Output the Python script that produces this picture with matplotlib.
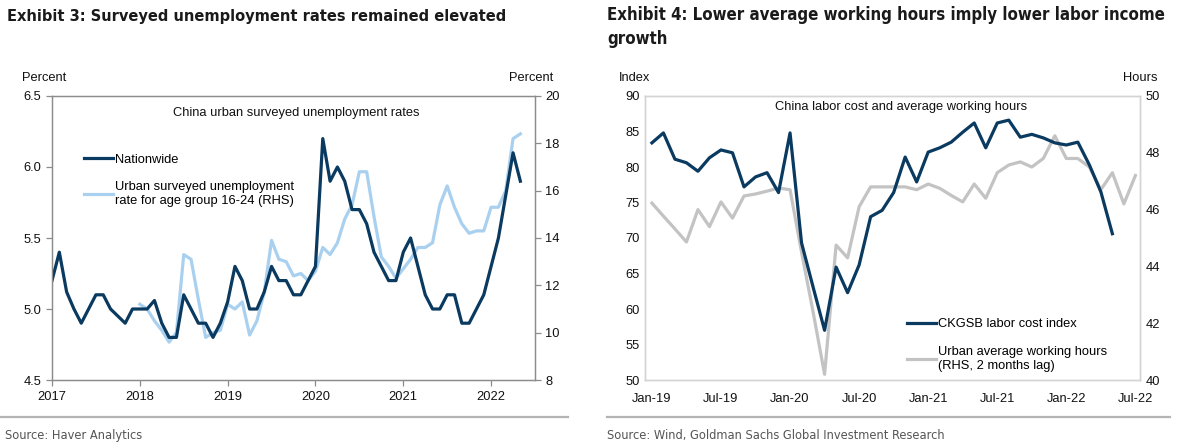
import numpy as np
import matplotlib
matplotlib.use("Agg")
import matplotlib.pyplot as plt
from matplotlib.lines import Line2D

# data
######################################################
# Exhibit 3: monthly from Jan-2017 (nationwide) and Jan-2018 (youth)
nationwide = [5.2, 5.4, 5.12, 5.0, 4.9, 5.0, 5.1, 5.1, 5.0, 4.95, 4.9, 5.0,
              5.0, 5.0, 5.06, 4.9, 4.8, 4.8, 5.1, 5.0, 4.9, 4.9, 4.8, 4.9,
              5.05, 5.3, 5.2, 5.0, 5.0, 5.12, 5.3, 5.2, 5.2, 5.1, 5.1, 5.2,
              5.3, 6.2, 5.9, 6.0, 5.9, 5.7, 5.7, 5.6, 5.4, 5.3, 5.2, 5.2,
              5.4, 5.5, 5.3, 5.1, 5.0, 5.0, 5.1, 5.1, 4.9, 4.9, 5.0, 5.1,
              5.3, 5.5, 5.8, 6.1, 5.9]
youth = [11.2, 11.0, 10.5, 10.1, 9.6, 10.0, 13.3, 13.1, 11.4, 9.8, 10.0, 10.1,
         11.2, 11.0, 11.3, 9.9, 10.5, 11.7, 13.9, 13.1, 13.0, 12.4, 12.5, 12.2,
         12.6, 13.6, 13.3, 13.8, 14.8, 15.4, 16.8, 16.8, 14.9, 13.2, 12.8, 12.3,
         12.7, 13.1, 13.6, 13.6, 13.8, 15.4, 16.2, 15.3, 14.6, 14.2, 14.3, 14.3,
         15.3, 15.3, 16.0, 18.2, 18.4]
years = ['2017', '2018', '2019', '2020', '2021', '2022']

# Exhibit 4: monthly from Jan-2019
labor_cost = [83.4, 84.8, 81.1, 80.6, 79.4, 81.3, 82.4, 82.0, 77.2, 78.6, 79.2, 76.4,
              84.8, 69.3, 63.1, 57.0, 65.9, 62.3, 66.2, 73.0, 73.9, 76.4, 81.4, 77.9,
              82.1, 82.7, 83.5, 84.9, 86.2, 82.7, 86.2, 86.6, 84.2, 84.6, 84.1, 83.4,
              83.1, 83.5, 80.3, 76.5, 70.6]
work_hours = [46.23, 45.77, 45.32, 44.86, 46.0, 45.4, 46.27, 45.7, 46.48, 46.55, 46.65, 46.76,
              46.7, 44.5, 42.4, 40.2, 44.75, 44.3, 46.1, 46.8, 46.8, 46.8, 46.8, 46.7,
              46.9, 46.75, 46.5, 46.27, 46.9, 46.4, 47.3, 47.57, 47.68, 47.5, 47.8, 48.6,
              47.8, 47.8, 47.5, 46.7, 47.3, 46.2, 47.2]
month_labels = ['Jan-19', 'Jul-19', 'Jan-20', 'Jul-20', 'Jan-21', 'Jul-21', 'Jan-22', 'Jul-22']

plt.rcParams['font.family'] = ['Liberation Sans', 'DejaVu Sans']
fs = 9.3

navy = '#0a3a60'
light_blue = '#a9d0ef'
grey_line = '#c3c3c3'
txt = '#111111'

fig = plt.figure(figsize=(11.77, 4.48), dpi=100)
W, H = 1177.0, 448.0

def box(x0, y0, x1, y1):
    return [x0 / W, 1 - y1 / H, (x1 - x0) / W, (y1 - y0) / H]

# Exhibit 3
######################################################
ax1 = fig.add_axes(box(52, 96, 535, 380))
ax1r = ax1.twinx()
m1 = np.arange(len(nationwide))
m2 = 12 + np.arange(len(youth))
ax1r.plot(m2, youth, color=light_blue, lw=2.3, label='Urban surveyed unemployment\nrate for age group 16-24 (RHS)')
ax1.plot(m1, nationwide, color=navy, lw=2.3, label='Nationwide')
ax1.set_zorder(ax1r.get_zorder() + 1)
ax1.patch.set_visible(False)
ax1.set_xlim(0, 66)
ax1.set_ylim(4.5, 6.5)
ax1r.set_ylim(8, 20)
ax1.set_yticks(np.arange(4.5, 6.51, 0.5))
ax1.set_yticklabels(['%.1f' % v for v in np.arange(4.5, 6.51, 0.5)])
ax1r.set_yticks(np.arange(8, 21, 2))
ax1.set_xticks(np.arange(0, 61, 12))
ax1.set_xticklabels(years)
for a in (ax1, ax1r):
    for s in a.spines.values():
        s.set_color('#8c8c8c')
        s.set_linewidth(0.9)
    a.tick_params(colors='#8c8c8c', labelcolor=txt, labelsize=fs, length=4, width=0.9)
ax1.tick_params(axis='x', pad=4)
ax1.text(0.505, 0.94, 'China urban surveyed unemployment rates', transform=ax1.transAxes,
         ha='center', va='center', fontsize=fs, color=txt)
h1, l1 = ax1.get_legend_handles_labels()
h2, l2 = ax1r.get_legend_handles_labels()
ax1.legend(h1 + h2, l1 + l2, loc='upper left', bbox_to_anchor=(0.055, 0.815), frameon=False,
           handlelength=2.3, handletextpad=0.15, labelspacing=1.2, fontsize=fs,
           borderaxespad=0)
fig.text(22 / W, 1 - 78 / H, 'Percent', ha='left', va='center', fontsize=fs, color=txt)
fig.text(553 / W, 1 - 78 / H, 'Percent', ha='right', va='center', fontsize=fs, color=txt)

# Exhibit 4
######################################################
ax2 = fig.add_axes(box(645, 96, 1140, 380))
ax2r = ax2.twinx()
n1 = np.arange(len(labor_cost))
n2 = np.arange(len(work_hours))
ax2r.plot(n2, work_hours, color=grey_line, lw=2.3, label='Urban average working hours\n(RHS, 2 months lag)')
ax2.plot(n1, labor_cost, color=navy, lw=2.3, label='CKGSB labor cost index')
ax2.set_zorder(ax2r.get_zorder() + 1)
ax2.patch.set_visible(False)
ax2.set_xlim(-0.6, 42.4)
ax2.set_ylim(50, 90)
ax2r.set_ylim(40, 50)
ax2.set_yticks(np.arange(50, 91, 5))
ax2r.set_yticks(np.arange(40, 51, 2))
ax2.set_xticks(np.arange(0, 43, 6))
ax2.set_xticklabels(month_labels)
for a in (ax2, ax2r):
    for s in a.spines.values():
        s.set_color('#d4d4d4')
        s.set_linewidth(1.0)
    a.tick_params(labelcolor=txt, labelsize=fs, length=0, pad=4)
ax2.tick_params(axis='x', pad=9)
ax2.text(0.517, 0.96, 'China labor cost and average working hours', transform=ax2.transAxes,
         ha='center', va='center', fontsize=fs, color=txt)
h1, l1 = ax2.get_legend_handles_labels()
h2, l2 = ax2r.get_legend_handles_labels()
ax2.legend(h1 + h2, l1 + l2, loc='upper left', bbox_to_anchor=(0.518, 0.235), frameon=False,
           handlelength=2.3, handletextpad=0.15, labelspacing=1.2, fontsize=fs,
           borderaxespad=0)
fig.text(619 / W, 1 - 78 / H, 'Index', ha='left', va='center', fontsize=fs, color=txt)
fig.text(1158 / W, 1 - 78 / H, 'Hours', ha='right', va='center', fontsize=fs, color=txt)

# titles, sources, rules
######################################################
narrow = dict(family='DejaVu Sans', fontstretch='condensed')
t3 = fig.text(7 / W, 1 - 16 / H, 'Exhibit 3: Surveyed unemployment rates remained elevated',
              weight='bold', fontsize=14, color='#1a1a1a', ha='left', va='center', **narrow)
t4 = fig.text(607 / W, 1 - 6 / H, 'Exhibit 4: Lower average working hours imply lower labor income\ngrowth',
              weight='bold', fontsize=14, color='#1a1a1a', ha='left', va='top', linespacing=1.45, **narrow)
s3 = fig.text(5 / W, 1 - 435 / H, 'Source: Haver Analytics',
              fontsize=10.5, color='#555555', ha='left', va='center', **narrow)
s4 = fig.text(607 / W, 1 - 435 / H, 'Source: Wind, Goldman Sachs Global Investment Research',
              fontsize=10.5, color='#555555', ha='left', va='center', **narrow)

# shrink the texts to the widths they have in the original
r = fig.canvas.get_renderer()
for t, target in [(t3, 498), (t4, 563), (s3, 138), (s4, 340)]:
    w = t.get_window_extent(r).width
    t.set_fontsize(t.get_fontsize() * target / w)

fig.add_artist(Line2D([0 / W, 568 / W], [1 - 417 / H, 1 - 417 / H], color='#b4b4b4', lw=1.6))
fig.add_artist(Line2D([607 / W, 1170 / W], [1 - 417 / H, 1 - 417 / H], color='#b4b4b4', lw=1.6))

fig.savefig('out.png', dpi=100)
